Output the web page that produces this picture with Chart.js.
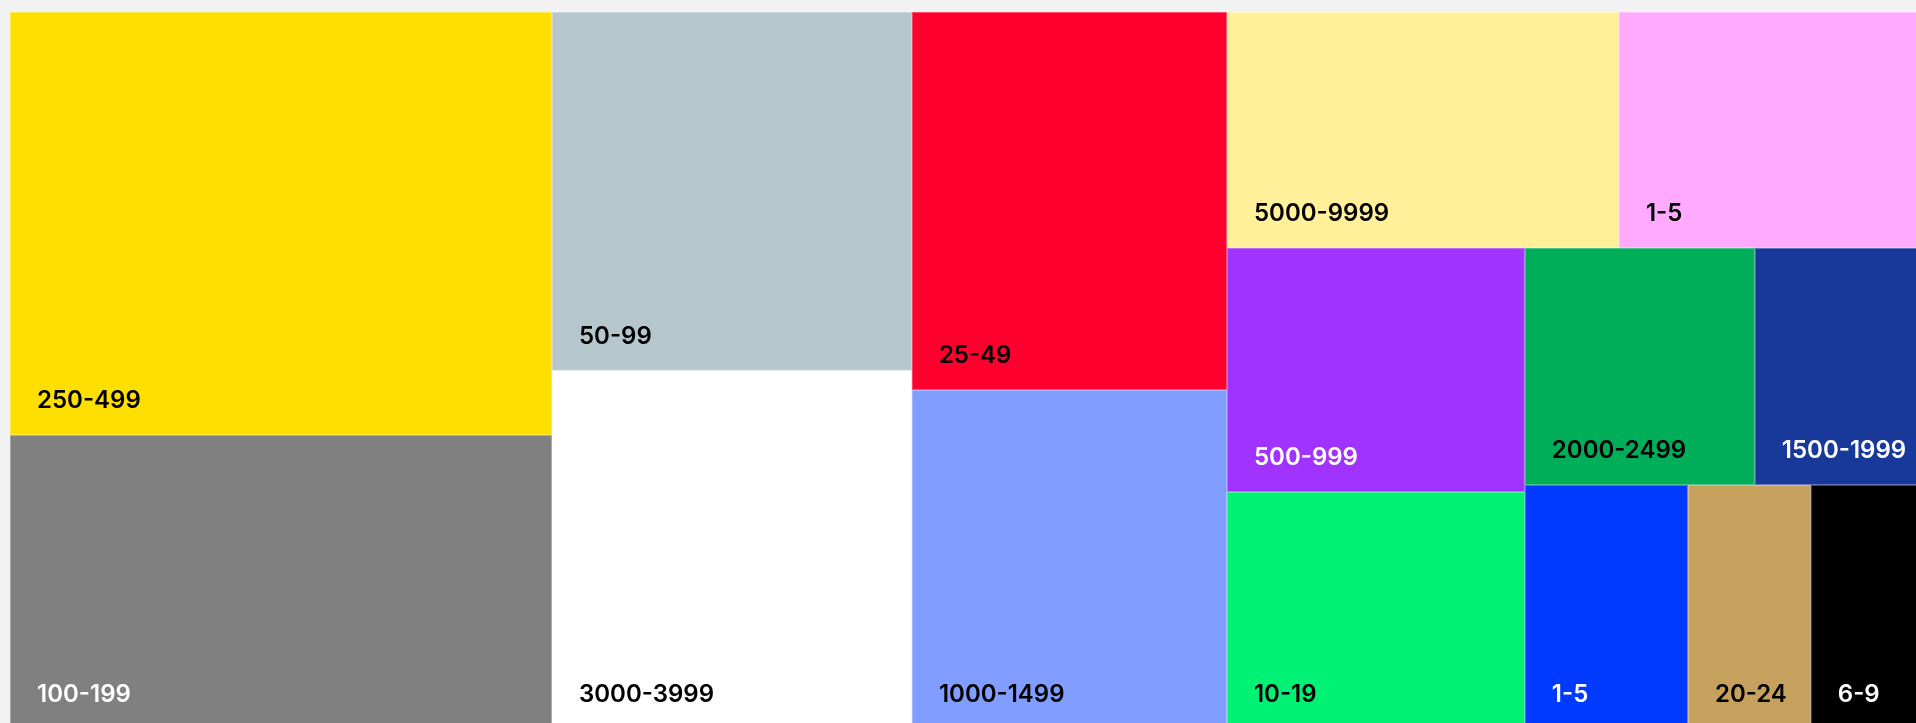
<!DOCTYPE html>
<html>
<head>
<meta charset="utf-8">
<script src="https://cdn.jsdelivr.net/npm/chart.js@4.4.1/dist/chart.umd.min.js"></script>
<style>
  html, body { margin: 0; padding: 0; overflow: hidden; background: #f2f2f2; }
  #wrap { position: absolute; left: 10px; top: 12px; width: 1925px; height: 717px; }
</style>
</head>
<body>
<div id="wrap"><canvas id="treemap"></canvas></div>
<script>
// Bins, in the order the treemap lays them out (largest first)
const labels = ["250-499", "100-199", "50-99", "3000-3999", "25-49", "1000-1499",
  "5000-9999", "1-5", "500-999", "10-19", "2000-2499", "1500-1999", "1-5", "20-24", "6-9"];
const values = [2293, 1593, 1291, 1290, 1191, 1068, 925, 746, 727, 706, 545, 427, 398, 300, 303];

const cellColors = ["#ffdf00", "#808080", "#b5c7cd", "#ffffff", "#ff002e", "#809dff",
  "#fff099", "#ffa9ff", "#a033ff", "#00f275", "#00ad59", "#18399a", "#003aff", "#c6a15d", "#000000"];
const textColors = ["#000", "#fff", "#000", "#000", "#000", "#000",
  "#000", "#000", "#fff", "#000", "#000", "#fff", "#fff", "#000", "#fff"];

const SQUARIFY_RATIO = 0.94;

// squarified tiling (same scheme as d3's treemapSquarify), returns fractions of the box
function squarify(vals, w, h, ratio) {
  const out = [];
  const n = vals.length;
  let value = vals.reduce((a, b) => a + b, 0);
  let x0 = 0, y0 = 0, x1 = w, y1 = h;
  let i0 = 0, i1 = 0;
  while (i0 < n) {
    const dx = x1 - x0, dy = y1 - y0;
    let sum = vals[i1++];
    let minV = sum, maxV = sum;
    const alpha = Math.max(dy / dx, dx / dy) / (value * ratio);
    let beta = sum * sum * alpha;
    let minRatio = Math.max(maxV / beta, beta / minV);
    for (; i1 < n; ++i1) {
      const v = vals[i1];
      sum += v;
      if (v < minV) minV = v;
      if (v > maxV) maxV = v;
      beta = sum * sum * alpha;
      const newRatio = Math.max(maxV / beta, beta / minV);
      if (newRatio > minRatio) { sum -= v; break; }
      minRatio = newRatio;
    }
    if (dx < dy) {
      // row across the top
      const yy = i1 >= n ? y1 : y0 + dy * sum / value;
      let x = x0;
      for (let k = i0; k < i1; k++) {
        const cw = dx * vals[k] / sum;
        out[k] = { x0: x / w, y0: y0 / h, x1: (x + cw) / w, y1: yy / h };
        x += cw;
      }
      y0 = yy;
    } else {
      // column on the left
      const xx = i1 >= n ? x1 : x0 + dx * sum / value;
      let y = y0;
      for (let k = i0; k < i1; k++) {
        const ch = dy * vals[k] / sum;
        out[k] = { x0: x0 / w, y0: y / h, x1: xx / w, y1: (y + ch) / h };
        y += ch;
      }
      x0 = xx;
    }
    value -= sum;
    i0 = i1;
  }
  return out;
}

const treemapPlugin = {
  id: "treemapCells",
  beforeDatasetsDraw(chart) {
    const area = chart.chartArea;
    const xs = chart.scales.x, ys = chart.scales.y;
    const cells = squarify(values, area.width, area.height, SQUARIFY_RATIO);
    const ctx = chart.ctx;
    ctx.save();
    cells.forEach((c, i) => {
      const left = xs.getPixelForValue(c.x0 * 100);
      const right = xs.getPixelForValue(c.x1 * 100);
      const top = ys.getPixelForValue(c.y0 * 100);
      const bottom = ys.getPixelForValue(c.y1 * 100);
      ctx.fillStyle = cellColors[i];
      ctx.fillRect(left, top, right - left, bottom - top);
      ctx.strokeStyle = "rgba(255,255,255,0.3)";
      ctx.lineWidth = 1;
      ctx.strokeRect(left + 0.5, top + 0.5, right - left - 1, bottom - top - 1);

      ctx.fillStyle = textColors[i];
      ctx.font = "600 24px Inter, 'Noto Sans', sans-serif";
      ctx.textAlign = "left";
      ctx.textBaseline = "alphabetic";
      ctx.fillText(labels[i], left + 27, bottom - 27);
    });
    ctx.restore();
  }
};

new Chart(document.getElementById("treemap").getContext("2d"), {
  type: "scatter",
  data: { datasets: [{ data: [], pointRadius: 0 }] },
  options: {
    responsive: true,
    maintainAspectRatio: false,
    animation: false,
    devicePixelRatio: 1,
    layout: { padding: 0 },
    plugins: { legend: { display: false }, tooltip: { enabled: false } },
    scales: {
      x: { type: "linear", min: 0, max: 100, display: false },
      y: { type: "linear", min: 0, max: 100, reverse: true, display: false }
    }
  },
  plugins: [treemapPlugin]
});
</script>
</body>
</html>
